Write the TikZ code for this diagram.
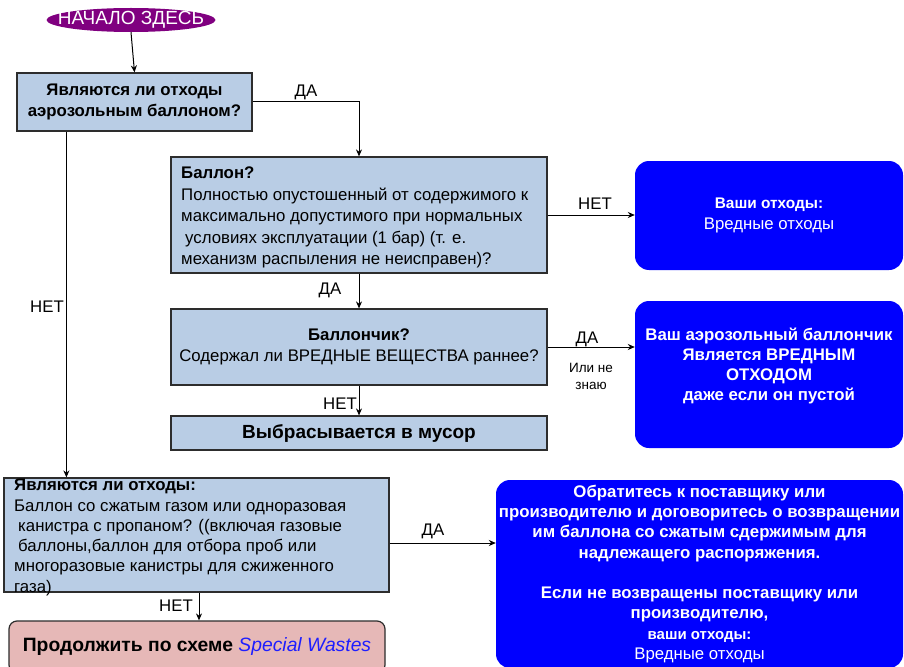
\documentclass[tikz,border=0pt]{standalone}
\usepackage{fontspec}
\setmainfont{Liberation Sans}
\usetikzlibrary{shapes.geometric,arrows.meta}
\definecolor{boxblue}{RGB}{185,205,229}
\definecolor{pinkfill}{RGB}{230,184,183}
\definecolor{startpurple}{RGB}{128,0,128}
\definecolor{edgegray}{RGB}{45,45,45}
\definecolor{linkblue}{RGB}{30,30,255}
\newcommand\fsA{\fontsize{16.8}{20.3}\selectfont}
\newcommand\fsB{\fontsize{16.8}{21.5}\selectfont}
\begin{document}
\begin{tikzpicture}[x=1pt,y=-1pt,
  qbox/.style={draw=edgegray, line width=1.2pt, fill=boxblue, inner sep=0pt},
  bluebox/.style={fill=blue, rounded corners=14pt, inner sep=0pt, text=white},
  lbl/.style={font=\fsA, inner sep=0pt},
  arr/.style={-{Stealth[length=7pt,width=6pt]}, line width=1pt}]
\useasboundingbox (0,0) rectangle (904,666);
\fill[white] (0,0) rectangle (904,666);

% nodes
\node[ellipse, fill=startpurple, minimum width=169pt, minimum height=24pt, inner sep=0pt] (start) at (131,20) {};
\node[text=white, inner sep=0pt, font=\fontsize{19}{19}\selectfont] (startt) at (start.center) {НАЧАЛО ЗДЕСЬ};

\node[qbox, minimum width=235pt, minimum height=58pt, align=center, font=\bfseries\fsA] (q1) at (134.5,102) {Являются ли отходы\\аэрозольным баллоном?};

\node[qbox, minimum width=376pt, minimum height=116pt] (q2) at (359,215) {};
\node[anchor=north west, align=left, inner sep=0pt, font=\fsB] (q2t) at (181,167) {\textbf{Баллон?}\\Полностью опустошенный от содержимого к\\максимально допустимого при нормальных\\\hspace*{4pt}условиях эксплуатации (1 бар) (т. е.\\механизм распыления не неисправен)?};

\node[qbox, minimum width=376pt, minimum height=76pt, align=center, font=\fsA] (q3) at (359,347) {\textbf{Баллончик?}\\Содержал ли ВРЕДНЫЕ ВЕЩЕСТВА раннее?};

\node[qbox, minimum width=376pt, minimum height=34pt, font=\bfseries\fontsize{19}{22}\selectfont] (trash) at (359,433) {Выбрасывается в мусор};

\node[qbox, minimum width=385pt, minimum height=114pt] (q4) at (196.5,535) {};
\node[anchor=north west, align=left, inner sep=0pt, font=\fsA] (q4t) at (14,479) {\textbf{Являются ли отходы:}\\Баллон со сжатым газом или одноразовая\\\hspace*{4pt}канистра с пропаном? ((включая газовые\\\hspace*{4pt}баллоны,баллон для отбора проб или\\многоразовые канистры для сжиженного\\газа)};

\node[draw=edgegray, line width=1.2pt, fill=pinkfill, rounded corners=8pt, minimum width=376pt, minimum height=52pt, inner sep=0pt, font=\fontsize{19.3}{22}\selectfont] (pink) at (197,647) {\textbf{Продолжить по схеме} \textcolor{linkblue}{\itshape Special Wastes}};

\node[bluebox, minimum width=268pt, minimum height=109pt, align=center, font=\fsA] (r1) at (769,215.5) {{\bfseries\fontsize{15.4}{18}\selectfont Ваши отходы:}\\Вредные отходы};

\node[bluebox, minimum width=268pt, minimum height=147pt] (r2) at (769,374.5) {};
\node[align=center, text=white, inner sep=0pt, font=\bfseries\fsA] (r2t) at (769,366) {Ваш аэрозольный баллончик\\Является ВРЕДНЫМ\\ОТХОДОМ\\даже если он пустой};

\node[bluebox, minimum width=407pt, minimum height=188pt, align=center, font=\bfseries\fsA] (r3) at (699.5,574) {Обратитесь к поставщику или\\производителю и договоритесь о возвращении\\им баллона со сжатым сдержимым для\\надлежащего распоряжения.\\[20pt]Если не возвращены поставщику или\\производителю,\\{\fontsize{15}{20}\selectfont ваши отходы:}\\{\mdseries Вредные отходы}};

% connectors
\draw[arr] (start.south) -- (q1.north);
\draw[arr] (q1.east) -| (q2.north);
\node[lbl] (l1) at (306,92) {ДА};
\path (q1.south west) ++(50,0) coordinate (q1s);
\draw[arr] (q1s) -- (q1s |- q4.north);
\node[lbl] (l2) at (47,307) {НЕТ};
\draw[arr] (q2.east) -- (q2.east -| r1.west);
\node[lbl] (l3) at (595,204) {НЕТ};
\draw[arr] (q2.south) -- (q3.north);
\node[lbl] (l4) at (330,290) {ДА};
\draw[arr] (q3.east) -- (q3.east -| r2.west);
\node[lbl] (l5) at (587,339) {ДА};
\node[align=center, inner sep=0pt, font=\fontsize{13.5}{17}\selectfont] (l6) at (591,376) {Или не\\знаю};
\draw[arr] (q3.south) -- (trash.north);
\node[lbl] (l7) at (340,404) {НЕТ};
\draw[arr] ([yshift=-8pt]q4.east) -- ([yshift=-8pt]q4.east -| r3.west);
\node[lbl] (l8) at (433,531) {ДА};
\path (q4.south) ++(2.5,0) coordinate (q4s);
\draw[arr] (q4s) -- (q4s |- pink.north);
\node[lbl] (l9) at (176,606) {НЕТ};
\end{tikzpicture}
\end{document}
